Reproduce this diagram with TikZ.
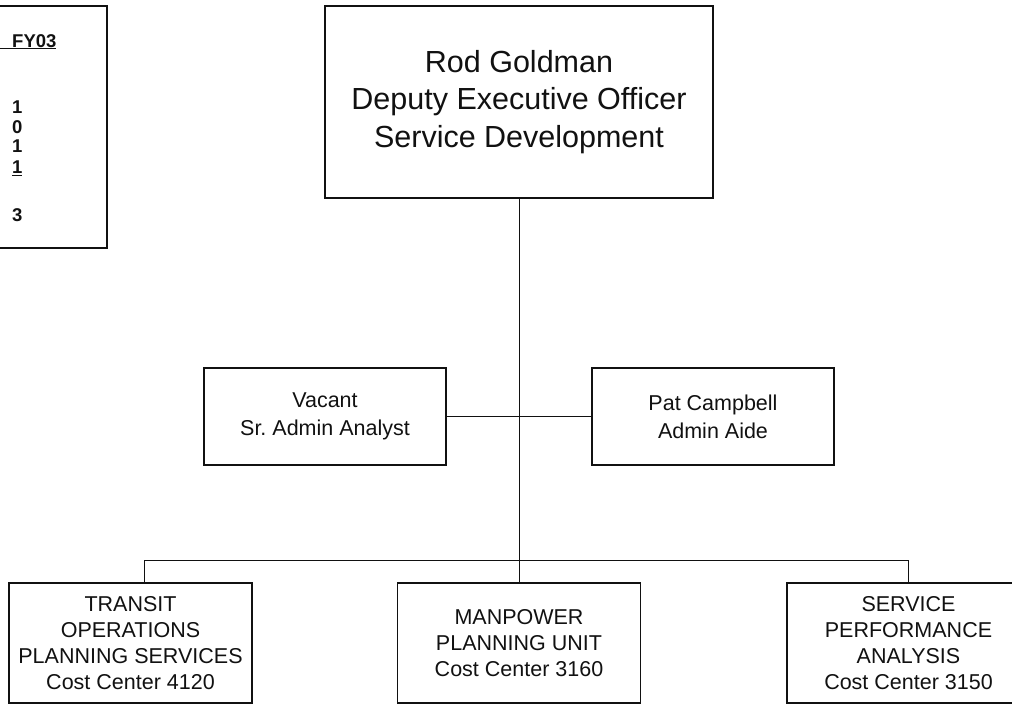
\documentclass[tikz,border=0pt]{standalone}
\usepackage{fontspec}
\setmainfont{Liberation Sans}
\frenchspacing
\usepackage{xcolor}
\definecolor{ink}{HTML}{111111}
\usepackage{tikz}
\tikzset{
  unit/.style={draw=ink,line width=1.6pt,align=center,inner sep=0pt,text=ink},
  headbox/.style={unit,minimum width=388pt,minimum height=192pt,
                  font=\fontsize{30.5}{37.5}\selectfont},
  staffbox/.style={unit,minimum width=242pt,minimum height=97pt,
                   font=\fontsize{21.5}{28}\selectfont},
  deptbox/.style={unit,minimum width=243pt,minimum height=120pt,
                  font=\fontsize{21.5}{26}\selectfont},
  link/.style={draw=ink,line width=0.9pt},
  cnt/.style={anchor=base west,inner sep=0pt,text=ink,
              font=\fontsize{18.5}{20}\selectfont\bfseries},
}

\begin{document}
\begin{tikzpicture}[x=1pt,y=-1pt]
  \useasboundingbox (0,0) rectangle (1012,705);

  % ---- head count ----
  \node[unit,minimum width=117pt,minimum height=242pt] (fte) at (48.5,127) {};
  \node[cnt] (fy) at (0,47) {\underline{\hspace{12pt}FY03}};
  \foreach \v/\y [count=\i] in {1/113,0/133,1/152.5,\underline{1}/173.5,3/221.5}
    \node[cnt] (n\i) at (12,\y) {\v};

  % ---- boxes ----
  \node[headbox] (rod) at (519,102) {Rod Goldman\\Deputy Executive Officer\\Service Development};
  \node[staffbox] (vacant) at (325,416.5) {Vacant\\Sr. Admin Analyst};
  \node[staffbox] (pat) at (713,416.5) {Pat Campbell\\Admin Aide};
  \node[deptbox] (tops) at (130.5,643) {TRANSIT\\OPERATIONS\\PLANNING SERVICES\\Cost Center 4120};
  \node[deptbox] (mpu) at (519,643) {MANPOWER\\PLANNING UNIT\\Cost Center 3160};
  \node[deptbox] (spa) at (908.5,643) {SERVICE\\PERFORMANCE\\ANALYSIS\\Cost Center 3150};

  % ---- lines ----
  \coordinate (bus) at (519,560);
  \draw[link] (rod.south) -- (mpu.north);
  \draw[link] (vacant.east) -- (pat.west);
  \draw[link] ([xshift=14pt]tops.north) |- (bus) -| (spa.north);
\end{tikzpicture}
\end{document}
